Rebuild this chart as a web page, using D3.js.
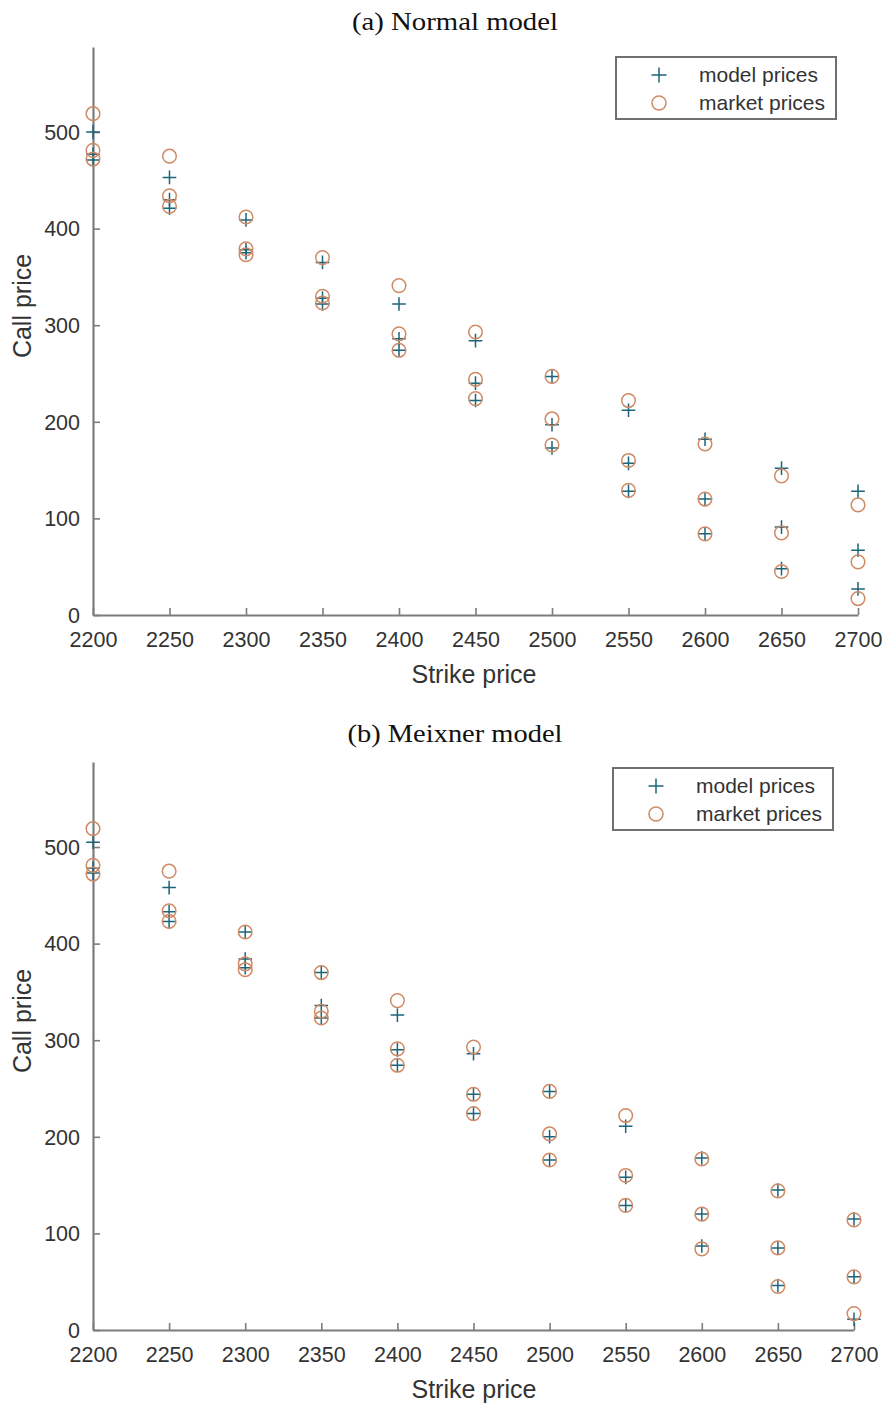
<!DOCTYPE html>
<html>
<head>
<meta charset="utf-8">
<script src="https://cdn.jsdelivr.net/npm/d3@7"></script>
<style>
  html, body { margin: 0; padding: 0; background: #fff; }
  svg { display: block; }
  .tick text { font-family: "Liberation Sans", Arial, sans-serif; font-size: 21.5px; fill: #333; }
</style>
</head>
<body>
<svg id="chart" width="884" height="1406"></svg>
<script>
// Strike prices (three maturities per strike)
const strikes = [2200, 2250, 2300, 2350, 2400, 2450, 2500, 2550, 2600, 2650, 2700];

// Observed market call prices, one triple per strike
const marketPrices = [
  [519, 481, 472], [475, 434, 423], [412, 379, 373], [370, 330, 323],
  [341, 291, 274], [293, 244, 224], [247, 203, 176], [222, 160, 129],
  [177, 120, 84], [144, 85, 45], [114, 55, 17]
];

// Calibrated normal model prices
const normalModelPrices = [
  [500, 477, 471], [453, 430, 421], [409, 378, 375], [365, 328, 322],
  [322, 286, 274], [284, 240, 222], [247, 197, 173], [212, 157, 128],
  [182, 120, 84], [152, 91, 48], [128, 67, 27]
];

// Calibrated Meixner model prices
const meixnerModelPrices = [
  [505, 478, 473], [458, 433, 423], [412, 384, 375], [370, 336, 323],
  [326, 290, 274], [286, 244, 224], [247, 200, 176], [211, 158, 129],
  [178, 120, 87], [145, 85, 46], [115, 55, 11]
];

const yTicks = [0, 100, 200, 300, 400, 500];
const xTicks = strikes;
const yMax = 588;   // upper limit of the visible price axis

const panelTitles = ["(a) Normal model", "(b) Meixner model"];
const legendLabels = ["model prices", "market prices"];
const xLabel = "Strike price";
const yLabel = "Call price";

const modelColor = "#1b6579";
const marketColor = "#cf8a66";
const axisColor = "#7c7c7c";

const panels = [
  { title: panelTitles[0], titleWidth: 206, model: normalModelPrices, left: 93, right: 858, top: 47, bottom: 615, titleY: 30, legendTop: 57, legendRight: 836 },
  { title: panelTitles[1], titleWidth: 215, model: meixnerModelPrices, left: 93, right: 854, top: 762, bottom: 1330, titleY: 742, legendTop: 768, legendRight: 833 }
];

const svg = d3.select("#chart");

function plusPath(s) {
  return `M${-s},0H${s}M0,${-s}V${s}`;
}

panels.forEach(p => {
  const x = d3.scaleLinear().domain([2200, 2700]).range([p.left, p.right]);
  const y = d3.scaleLinear().domain([0, yMax]).range([p.bottom, p.top]);
  const g = svg.append("g");

  // Panel title
  g.append("text")
    .attr("x", 455)
    .attr("y", p.titleY)
    .attr("text-anchor", "middle")
    .attr("font-family", "'Liberation Serif', 'DejaVu Serif', serif")
    .attr("font-size", 26)
    .attr("textLength", p.titleWidth)
    .attr("lengthAdjust", "spacingAndGlyphs")
    .attr("fill", "#111")
    .text(p.title);

  // Axes
  const yAxis = d3.axisLeft(y).tickValues(yTicks).tickSizeInner(-7).tickSizeOuter(0).tickPadding(13);
  const xAxis = d3.axisBottom(x).tickValues(xTicks).tickSizeInner(-7).tickSizeOuter(0).tickPadding(17).tickFormat(d3.format("d"));

  const gy = g.append("g").attr("transform", `translate(${p.left},0)`).call(yAxis);
  const gx = g.append("g").attr("transform", `translate(0,${p.bottom})`).call(xAxis);
  [gx, gy].forEach(a => {
    a.select(".domain").attr("stroke", axisColor).attr("stroke-width", 2.2);
    a.selectAll(".tick line").attr("stroke", axisColor).attr("stroke-width", 1.6);
  });
  gy.selectAll(".tick text").attr("dy", "0.34em");

  // Axis labels
  g.append("text")
    .attr("x", 474)
    .attr("y", p.bottom + 68)
    .attr("text-anchor", "middle")
    .attr("font-family", "'Liberation Sans', Arial, sans-serif")
    .attr("font-size", 25)
    .attr("fill", "#333")
    .text(xLabel);
  g.append("text")
    .attr("transform", `translate(31,${(p.top + p.bottom) / 2 - 25}) rotate(-90)`)
    .attr("text-anchor", "middle")
    .attr("font-family", "'Liberation Sans', Arial, sans-serif")
    .attr("font-size", 25)
    .attr("fill", "#333")
    .text(yLabel);

  // Flatten into point lists
  const modelPts = [], marketPts = [];
  strikes.forEach((k, i) => {
    p.model[i].forEach(v => modelPts.push({ k, v }));
    marketPrices[i].forEach(v => marketPts.push({ k, v }));
  });

  g.append("g").selectAll("path").data(modelPts).join("path")
    .attr("transform", d => `translate(${x(d.k)},${y(d.v)})`)
    .attr("d", plusPath(6.8))
    .attr("fill", "none")
    .attr("stroke", modelColor)
    .attr("stroke-width", 1.5);

  g.append("g").selectAll("circle").data(marketPts).join("circle")
    .attr("cx", d => x(d.k))
    .attr("cy", d => y(d.v))
    .attr("r", 6.8)
    .attr("fill", "none")
    .attr("stroke", marketColor)
    .attr("stroke-width", 1.5);

  // Legend
  const lw = 220, lh = 62;
  const lg = g.append("g").attr("transform", `translate(${p.legendRight - lw},${p.legendTop})`);
  lg.append("rect").attr("width", lw).attr("height", lh)
    .attr("fill", "#fff").attr("stroke", "#6f6f6f").attr("stroke-width", 2);
  lg.append("path").attr("transform", "translate(43,18)").attr("d", plusPath(7.5))
    .attr("fill", "none").attr("stroke", modelColor).attr("stroke-width", 1.5);
  lg.append("circle").attr("cx", 43).attr("cy", 46).attr("r", 7)
    .attr("fill", "none").attr("stroke", marketColor).attr("stroke-width", 1.5);
  legendLabels.forEach((t, i) => {
    lg.append("text").attr("x", 83).attr("y", 18 + i * 28).attr("dy", "0.35em")
      .attr("font-family", "'Liberation Sans', Arial, sans-serif")
      .attr("font-size", 21).attr("fill", "#333").text(t);
  });
});
</script>
</body>
</html>
